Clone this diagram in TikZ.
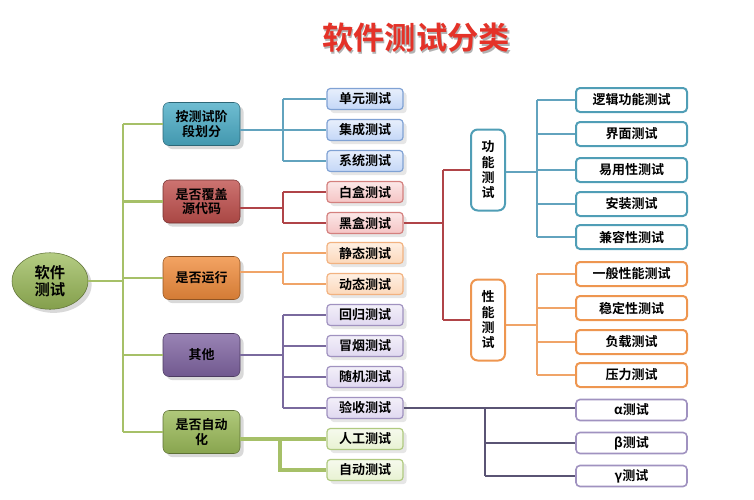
\documentclass[tikz,border=0pt]{standalone}
\usepackage{fontspec}
\setmainfont{Noto Sans CJK SC}[BoldFont={Noto Sans CJK SC Bold}]
\usetikzlibrary{shapes.geometric,shadows}

\definecolor{titlered}{RGB}{228,50,40}
\definecolor{grnline}{RGB}{166,192,104}
\definecolor{grnfill}{RGB}{155,187,89}
\definecolor{grnleaf}{RGB}{232,242,210}
\definecolor{grnedge}{RGB}{176,202,128}
\definecolor{bluline}{RGB}{98,163,190}
\definecolor{blufill}{RGB}{75,172,198}
\definecolor{bluleaf}{RGB}{196,215,247}
\definecolor{bluedge}{RGB}{128,162,212}
\definecolor{redline}{RGB}{176,68,72}
\definecolor{redfill}{RGB}{192,80,77}
\definecolor{redleaf}{RGB}{245,196,196}
\definecolor{rededge}{RGB}{212,128,126}
\definecolor{orgline}{RGB}{240,164,104}
\definecolor{orgfill}{RGB}{240,140,60}
\definecolor{orgleaf}{RGB}{252,216,186}
\definecolor{orgedge}{RGB}{242,178,128}
\definecolor{purline}{RGB}{122,106,158}
\definecolor{purfill}{RGB}{128,100,162}
\definecolor{purleaf}{RGB}{224,216,240}
\definecolor{puredge}{RGB}{160,146,192}
\definecolor{tealedge}{RGB}{80,158,182}
\definecolor{orgedgeb}{RGB}{238,150,80}
\definecolor{gryline}{RGB}{90,84,116}

\begin{document}
\begin{tikzpicture}[x=0.75pt,y=-0.75pt,
  rootnode/.style={ellipse, minimum width=57pt, minimum height=41pt, draw=grnfill!60!black,
    top color=grnfill!75!white, bottom color=grnfill!85!black, align=center,
    font=\bfseries\fontsize{11.5}{12.5}\selectfont, drop shadow={opacity=0.3}},
  sortbox/.style={rounded corners=4.5pt, minimum width=57.75pt, minimum height=32.25pt,
    align=center, inner sep=1pt, font=\bfseries\fontsize{9.75}{11}\selectfont,
    draw=#1!60!black, top color=#1!80!white, bottom color=#1!88!black, drop shadow={opacity=0.3}},
  kindbox/.style={rounded corners=2.5pt, minimum width=57pt, minimum height=15.75pt,
    inner sep=1pt, font=\bfseries\fontsize{9.75}{11}\selectfont, line width=0.9pt,
    draw=#1edge, top color=#1leaf!40!white, bottom color=#1leaf, drop shadow={opacity=0.2}},
  catbox/.style={rounded corners=5pt, minimum width=25.5pt, minimum height=60.75pt,
    align=center, inner sep=1pt, font=\bfseries\fontsize{9.75}{11.5}\selectfont,
    draw=#1, line width=1.5pt, fill=white},
  itembox/.style={rounded corners=3pt, minimum width=83.25pt, minimum height=18pt,
    inner sep=1pt, font=\bfseries\fontsize{9.75}{11}\selectfont,
    draw=#1, line width=1.5pt, fill=white},
  greekbox/.style={rounded corners=3pt, minimum width=83.25pt, minimum height=15.75pt,
    inner sep=1pt, font=\bfseries\fontsize{9.75}{11}\selectfont,
    draw=puredge, line width=1.2pt, fill=white},
  link/.style={draw=#1, line width=1.5pt}]

\useasboundingbox (0,0) rectangle (754,500);

\node[font=\bfseries\fontsize{23.5}{25}\selectfont, text=black!30] at (417.5,39.5) {软件测试分类};
\node[font=\bfseries\fontsize{23.5}{25}\selectfont, text=titlered] (title) at (416,38) {软件测试分类};

% root and first level
\node[rootnode] (root) at (50,281) {软件\\测试};

\node[sortbox=blufill] (s1) at (201.5,124) {按测试阶\\段划分};
\node[sortbox=redfill] (s2) at (201.5,201.5) {是否覆盖\\源代码};
\node[sortbox=orgfill] (s3) at (201.5,278) {是否运行};
\node[sortbox=purfill] (s4) at (201.5,355) {其他};
\node[sortbox=grnfill] (s5) at (201.5,432) {是否自动\\化};

% second level
\node[kindbox=blu] (d1) at (365,99) {单元测试};
\node[kindbox=blu] (d2) at (365,130) {集成测试};
\node[kindbox=blu] (d3) at (365,161) {系统测试};
\node[kindbox=red] (d4) at (365,192) {白盒测试};
\node[kindbox=red] (d5) at (365,223) {黑盒测试};
\node[kindbox=org] (d6) at (365,253) {静态测试};
\node[kindbox=org] (d7) at (365,284) {动态测试};
\node[kindbox=pur] (d8) at (365,315) {回归测试};
\node[kindbox=pur] (d9) at (365,346) {冒烟测试};
\node[kindbox=pur] (d10) at (365,377) {随机测试};
\node[kindbox=pur] (d11) at (365,408) {验收测试};
\node[kindbox=grn] (d12) at (365,439) {人工测试};
\node[kindbox=grn] (d13) at (365,470) {自动测试};

% black box split
\node[catbox=tealedge] (c1) at (488,170) {功\\能\\测\\试};
\node[catbox=orgedgeb] (c2) at (488,320) {性\\能\\测\\试};

\node[itembox=tealedge] (f1) at (631.5,100) {逻辑功能测试};
\node[itembox=tealedge] (f2) at (631.5,134) {界面测试};
\node[itembox=tealedge] (f3) at (631.5,170) {易用性测试};
\node[itembox=tealedge] (f4) at (631.5,204) {安装测试};
\node[itembox=tealedge] (f5) at (631.5,237) {兼容性测试};
\node[itembox=orgedgeb] (p1) at (631.5,274) {一般性能测试};
\node[itembox=orgedgeb] (p2) at (631.5,308) {稳定性测试};
\node[itembox=orgedgeb] (p3) at (631.5,342) {负载测试};
\node[itembox=orgedgeb] (p4) at (631.5,375) {压力测试};

\node[greekbox] (a1) at (631.5,410) {α测试};
\node[greekbox] (a2) at (631.5,443) {β测试};
\node[greekbox] (a3) at (631.5,476) {γ测试};

% trunk
\coordinate (tk) at (123,281);
\draw[link=grnline, line width=2pt] (root.east) -- (tk);
\draw[link=grnline, line width=2pt] (tk |- s1.west) -- (tk |- s5.west);
\draw[link=grnline, line width=2pt] (tk |- s1.west) -- (s1.west);
\draw[link=grnline, line width=2pt] (tk |- s2.west) -- (s2.west);
\draw[link=grnline, line width=2pt] (tk |- s3.west) -- (s3.west);
\draw[link=grnline, line width=2pt] (tk |- s4.west) -- (s4.west);
\draw[link=grnline, line width=2pt] (tk |- s5.west) -- (s5.west);

% branches of the second level
\coordinate (jb) at (283,130);
\draw[link=bluline] (s1.east |- jb) -- (jb);
\draw[link=bluline] (jb |- d1.west) -- (jb |- d3.west);
\draw[link=bluline] (jb |- d1.west) -- (d1.west);
\draw[link=bluline] (jb |- d2.west) -- (d2.west);
\draw[link=bluline] (jb |- d3.west) -- (d3.west);

\coordinate (jr) at (283,208);
\draw[link=redline] (s2.east |- jr) -- (jr);
\draw[link=redline] (jr |- d4.west) -- (jr |- d5.west);
\draw[link=redline] (jr |- d4.west) -- (d4.west);
\draw[link=redline] (jr |- d5.west) -- (d5.west);

\coordinate (jo) at (283,272);
\draw[link=orgline] (s3.east |- jo) -- (jo);
\draw[link=orgline] (jo |- d6.west) -- (jo |- d7.west);
\draw[link=orgline] (jo |- d6.west) -- (d6.west);
\draw[link=orgline] (jo |- d7.west) -- (d7.west);

\coordinate (jp) at (283,355);
\draw[link=purline] (s4.east |- jp) -- (jp);
\draw[link=purline] (jp |- d8.west) -- (jp |- d11.west);
\draw[link=purline] (jp |- d8.west) -- (d8.west);
\draw[link=purline] (jp |- d9.west) -- (d9.west);
\draw[link=purline] (jp |- d10.west) -- (d10.west);
\draw[link=purline] (jp |- d11.west) -- (d11.west);

\coordinate (jg) at (280,439);
\draw[link=grnline, line width=2.5pt] (s5.east |- jg) -- (d12.west);
\draw[link=grnline, line width=2.5pt] (jg) -- (jg |- d13.west) -- (d13.west);

% black box
\coordinate (jk) at (443,223);
\draw[link=redline] (d5.east) -- (jk);
\draw[link=redline] (jk |- c1.west) -- (jk |- c2.west);
\draw[link=redline] (jk |- c1.west) -- (c1.west);
\draw[link=redline] (jk |- c2.west) -- (c2.west);

\coordinate (jt) at (537,172);
\draw[link=bluline] (c1.east |- jt) -- (jt);
\draw[link=bluline] (jt |- f1.west) -- (jt |- f5.west);
\draw[link=bluline] (jt |- f1.west) -- (f1.west);
\draw[link=bluline] (jt |- f2.west) -- (f2.west);
\draw[link=bluline] (jt |- f3.west) -- (f3.west);
\draw[link=bluline] (jt |- f4.west) -- (f4.west);
\draw[link=bluline] (jt |- f5.west) -- (f5.west);

\coordinate (jq) at (537,325);
\draw[link=orgline] (c2.east |- jq) -- (jq);
\draw[link=orgline] (jq |- p1.west) -- (jq |- p4.west);
\draw[link=orgline] (jq |- p1.west) -- (p1.west);
\draw[link=orgline] (jq |- p2.west) -- (p2.west);
\draw[link=orgline] (jq |- p3.west) -- (p3.west);
\draw[link=orgline] (jq |- p4.west) -- (p4.west);

% acceptance
\coordinate (ja) at (485,408);
\draw[link=gryline] (d11.east) -- (d11.east -| a1.west);
\draw[link=gryline] (ja) -- (ja |- a3.west);
\draw[link=gryline] (ja |- a2.west) -- (a2.west);
\draw[link=gryline] (ja |- a3.west) -- (a3.west);

\end{tikzpicture}
\end{document}
